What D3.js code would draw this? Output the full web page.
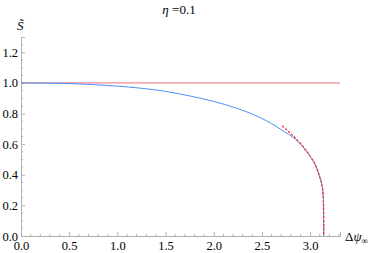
<!DOCTYPE html>
<html>
<head>
<meta charset="utf-8">
<script src="https://cdn.jsdelivr.net/npm/d3@7"></script>
<style>
body { margin: 0; background: #fff; }
svg text { fill: #000; }
</style>
</head>
<body>
<div id="chart"></div>
<script>
// values
var blue_x = [0, 0.25, 0.5, 0.75, 1.0, 1.25, 1.5, 1.75, 2.0, 2.25, 2.5, 2.7, 2.9, 3.0, 3.05, 3.1, 3.12, 3.135, 3.14, 3.1416];
var blue_y = [1.0, 0.999, 0.996, 0.989, 0.979, 0.965, 0.945, 0.915, 0.879, 0.832, 0.768, 0.695, 0.600, 0.520, 0.470, 0.385, 0.340, 0.270, 0.150, 0.0];

var red_x = [2.71, 2.8, 2.9, 3.0, 3.05, 3.1, 3.12, 3.135, 3.14, 3.1416];
var red_y = [0.720, 0.668, 0.604, 0.521, 0.470, 0.385, 0.340, 0.270, 0.150, 0.0];

var flat_x = [0, 3.31];
var flat_y = [1.0, 1.0];

var x_ticks = [0, 0.5, 1.0, 1.5, 2.0, 2.5, 3.0];
var y_ticks = [0, 0.2, 0.4, 0.6, 0.8, 1.0, 1.2];

var W = 374, H = 253;
var FONT = '"Liberation Serif", "DejaVu Serif", serif';

var sx = d3.scaleLinear().domain([0, 3.31]).range([21, 340]);
var sy = d3.scaleLinear().domain([0, 1.3]).range([236, 37]);

var svg = d3.select('#chart').append('svg')
    .attr('width', W)
    .attr('height', H)
    .attr('font-family', FONT);

var AXIS = '#b0b0b0';

// axes, ticks pointing into the plot
var ax = d3.axisBottom(sx).tickValues(x_ticks).tickSize(-4).tickFormat(d3.format('.1f'));
var ay = d3.axisLeft(sy).tickValues(y_ticks).tickSize(-4).tickFormat(d3.format('.1f'));

var gx = svg.append('g').attr('transform', 'translate(0,' + sy(0) + ')').call(ax);
var gy = svg.append('g').attr('transform', 'translate(' + sx(0) + ',0)').call(ay);

[gx, gy].forEach(function(g) {
    g.attr('font-family', FONT).attr('font-size', 12.5);
    g.select('.domain').attr('stroke', AXIS);
    g.selectAll('.tick line').attr('stroke', AXIS);
    g.selectAll('.tick text').attr('fill', '#000');
});
gx.selectAll('.tick text').attr('y', 5).attr('dy', '0.71em');
gy.selectAll('.tick text').attr('x', -3);

// minor ticks
var minor_x = d3.range(0, 3.31, 0.1).filter(function(v) { return Math.abs(v * 2 - Math.round(v * 2)) > 1e-6; });
var minor_y = d3.range(0, 1.3, 0.05).filter(function(v) { return Math.abs(v * 5 - Math.round(v * 5)) > 1e-6; });
svg.append('g').selectAll('line').data(minor_x).enter().append('line')
    .attr('x1', function(d) { return sx(d); })
    .attr('x2', function(d) { return sx(d); })
    .attr('y1', sy(0))
    .attr('y2', sy(0) - 2)
    .attr('stroke', AXIS);
svg.append('g').selectAll('line').data(minor_y).enter().append('line')
    .attr('x1', sx(0))
    .attr('x2', sx(0) + 2)
    .attr('y1', function(d) { return sy(d); })
    .attr('y2', function(d) { return sy(d); })
    .attr('stroke', AXIS);

function pts(xs, ys) {
    return xs.map(function(v, i) { return [v, ys[i]]; });
}

var line = d3.line()
    .x(function(d) { return sx(d[0]); })
    .y(function(d) { return sy(d[1]); })
    .curve(d3.curveMonotoneX);

svg.append('path')
    .datum(pts(flat_x, flat_y))
    .attr('d', line)
    .attr('fill', 'none')
    .attr('stroke', '#e8606a')
    .attr('stroke-width', 0.9);

svg.append('path')
    .datum(pts(blue_x, blue_y))
    .attr('d', line)
    .attr('fill', 'none')
    .attr('stroke', '#4a90f8')
    .attr('stroke-width', 1);

svg.append('path')
    .datum(pts(red_x, red_y))
    .attr('d', line)
    .attr('fill', 'none')
    .attr('stroke', '#f03040')
    .attr('stroke-width', 1.3)
    .attr('stroke-dasharray', '2.5,1.5');

// title and axis labels
svg.append('text')
    .attr('x', 179)
    .attr('y', 14)
    .attr('text-anchor', 'middle')
    .attr('font-size', 13)
    .html('<tspan font-style="italic">η</tspan> =0.1');

svg.append('text')
    .attr('x', 17)
    .attr('y', 30)
    .attr('font-size', 13)
    .attr('font-style', 'italic')
    .text('S\u0303');

svg.append('text')
    .attr('x', 345)
    .attr('y', 241)
    .attr('font-size', 13)
    .html('Δ<tspan font-style="italic">ψ</tspan><tspan font-size="9" dy="3">∞</tspan>');
</script>
</body>
</html>
